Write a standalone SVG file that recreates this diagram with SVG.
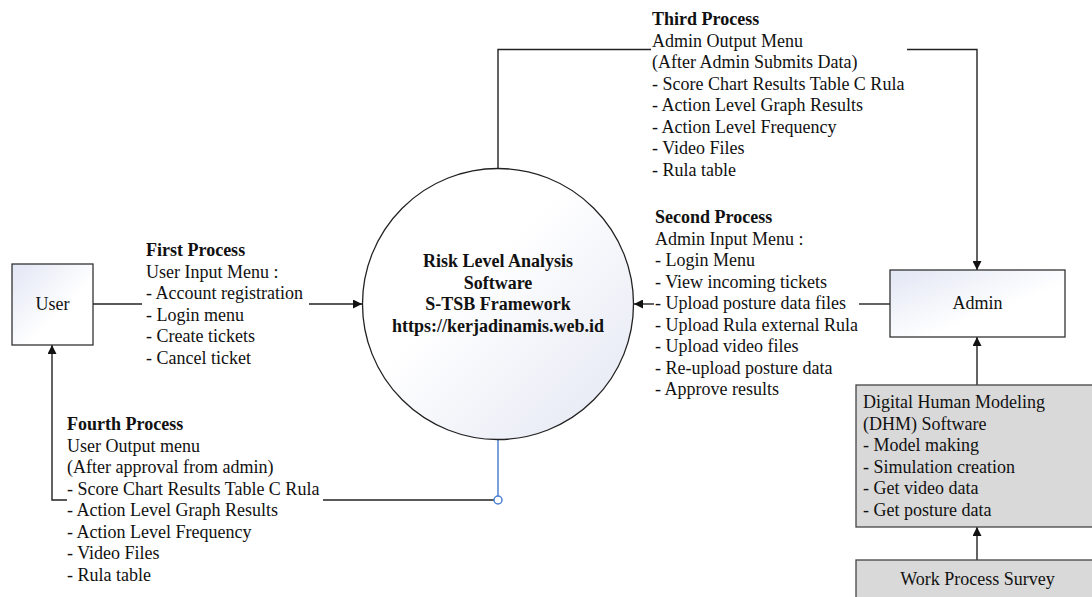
<svg xmlns="http://www.w3.org/2000/svg" width="1092" height="597" viewBox="0 0 1092 597">
<defs>
<linearGradient id="gBox" x1="0" y1="0" x2="1" y2="1">
<stop offset="0" stop-color="#e2e6f4"/>
<stop offset="0.6" stop-color="#ffffff"/>
</linearGradient>
<linearGradient id="gCirc" x1="1" y1="1" x2="0" y2="0">
<stop offset="0" stop-color="#e3e6f3"/>
<stop offset="0.6" stop-color="#ffffff"/>
</linearGradient>
<marker id="arr" viewBox="0 0 10 10" refX="10" refY="5" markerWidth="9" markerHeight="9" markerUnits="userSpaceOnUse" orient="auto">
<path d="M0,0 L10,5 L0,10 z" fill="#111"/>
</marker>
</defs>
<style>
.t{font-family:"Liberation Serif","Times New Roman",serif;font-size:18px;fill:#111}
.b{font-weight:bold}
.c{text-anchor:middle}
.ln{fill:none;stroke:#222;stroke-width:1.4}
.box{stroke:#333;stroke-width:1.3}
.gray{fill:#d9d9d9;stroke:#444;stroke-width:1.3}
</style>
<rect width="1092" height="597" fill="#ffffff"/>

<g id="connectors">
<line class="ln" x1="93" y1="304" x2="142" y2="304"/>
<line class="ln" x1="309" y1="304" x2="362" y2="304" marker-end="url(#arr)"/>
<line class="ln" x1="890" y1="304" x2="859" y2="304"/>
<line class="ln" x1="654" y1="304" x2="634" y2="304" marker-end="url(#arr)"/>
<polyline class="ln" points="498,169 498,49.5 651,49.5"/>
<polyline class="ln" points="907,49.5 977,49.5 977,270" marker-end="url(#arr)"/>
<line class="ln" x1="977" y1="385" x2="977" y2="337" marker-end="url(#arr)"/>
<line class="ln" x1="977" y1="560" x2="977" y2="527" marker-end="url(#arr)"/>
<line x1="498" y1="439" x2="498" y2="496" stroke="#5b8bd6" stroke-width="1.6"/>
<line class="ln" x1="494" y1="500" x2="323" y2="500"/>
<polyline class="ln" points="67,500 52,500 52,345" marker-end="url(#arr)"/>
<circle cx="498" cy="500" r="4" fill="#ffffff" stroke="#4a7fd4" stroke-width="1.5"/>
</g>

<g id="user">
<rect class="box" x="12" y="264" width="81" height="81" fill="url(#gBox)"/>
<text class="t c" x="52.5" y="310">User</text>
</g>

<g id="system">
<circle cx="498" cy="304" r="135.5" fill="url(#gCirc)" stroke="#222" stroke-width="1.3"/>
<text class="t b c" x="498" y="267">Risk Level Analysis</text>
<text class="t b c" x="498" y="288.5">Software</text>
<text class="t b c" x="498" y="310">S-TSB Framework</text>
<text class="t b c" x="498" y="331.5">https://kerjadinamis.web.id</text>
</g>

<g id="admin">
<rect class="box" x="890" y="270" width="175" height="67" fill="url(#gBox)"/>
<text class="t c" x="977.5" y="309">Admin</text>
</g>

<g id="dhm">
<rect class="gray" x="856" y="385" width="250" height="142"/>
<text class="t" x="863" y="408">Digital Human Modeling</text>
<text class="t" x="863" y="429.5">(DHM) Software</text>
<text class="t" x="863" y="451">- Model making</text>
<text class="t" x="863" y="472.5">- Simulation creation</text>
<text class="t" x="863" y="494">- Get video data</text>
<text class="t" x="863" y="515.5">- Get posture data</text>
</g>

<g id="survey">
<rect class="gray" x="856" y="560" width="250" height="50"/>
<text class="t c" x="977.5" y="585">Work Process Survey</text>
</g>

<g id="first-process">
<text class="t b" x="146" y="256">First Process</text>
<text class="t" x="146" y="277.5">User Input Menu :</text>
<text class="t" x="146" y="299">- Account registration</text>
<text class="t" x="146" y="320.5">- Login menu</text>
<text class="t" x="146" y="342">- Create tickets</text>
<text class="t" x="146" y="363.5">- Cancel ticket</text>
</g>

<g id="second-process">
<text class="t b" x="655" y="223">Second Process</text>
<text class="t" x="655" y="244.5">Admin Input Menu :</text>
<text class="t" x="655" y="266">- Login Menu</text>
<text class="t" x="655" y="287.5">- View incoming tickets</text>
<text class="t" x="655" y="309">- Upload posture data files</text>
<text class="t" x="655" y="330.5">- Upload Rula external Rula</text>
<text class="t" x="655" y="352">- Upload video files</text>
<text class="t" x="655" y="373.5">- Re-upload posture data</text>
<text class="t" x="655" y="395">- Approve results</text>
</g>

<g id="third-process">
<text class="t b" x="652" y="25">Third Process</text>
<text class="t" x="652" y="46.5">Admin Output Menu</text>
<text class="t" x="652" y="68">(After Admin Submits Data)</text>
<text class="t" x="652" y="89.5">- Score Chart Results Table C Rula</text>
<text class="t" x="652" y="111">- Action Level Graph Results</text>
<text class="t" x="652" y="132.5">- Action Level Frequency</text>
<text class="t" x="652" y="154">- Video Files</text>
<text class="t" x="652" y="175.5">- Rula table</text>
</g>

<g id="fourth-process">
<text class="t b" x="67" y="430">Fourth Process</text>
<text class="t" x="67" y="451.5">User Output menu</text>
<text class="t" x="67" y="473">(After approval from admin)</text>
<text class="t" x="67" y="494.5">- Score Chart Results Table C Rula</text>
<text class="t" x="67" y="516">- Action Level Graph Results</text>
<text class="t" x="67" y="537.5">- Action Level Frequency</text>
<text class="t" x="67" y="559">- Video Files</text>
<text class="t" x="67" y="580.5">- Rula table</text>
</g>
</svg>
